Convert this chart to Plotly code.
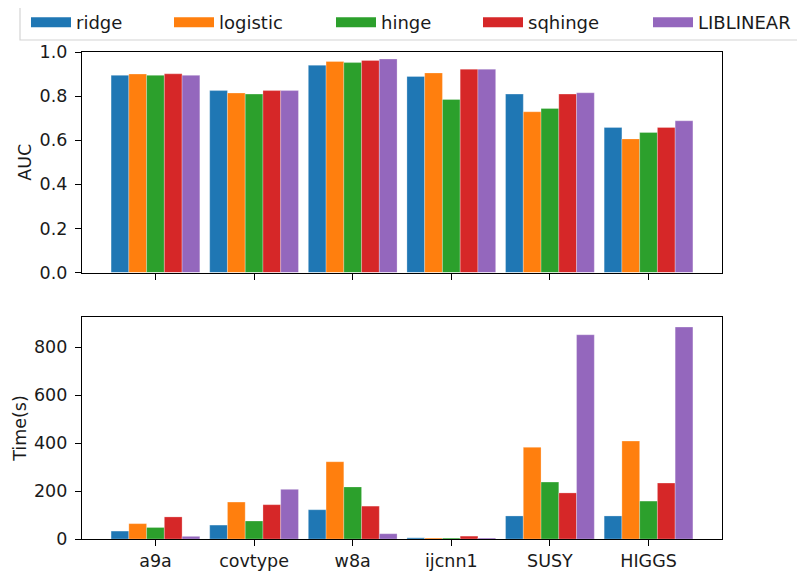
import plotly.graph_objects as go

datasets = ["a9a", "covtype", "w8a", "ijcnn1", "SUSY", "HIGGS"]
methods = ["ridge", "logistic", "hinge", "sqhinge", "LIBLINEAR"]
colors = ["#1f77b4", "#ff7f0e", "#2ca02c", "#d62728", "#9467bd"]

auc_ridge = [0.894, 0.825, 0.940, 0.889, 0.809, 0.658]
auc_logistic = [0.900, 0.814, 0.957, 0.905, 0.729, 0.606]
auc_hinge = [0.894, 0.809, 0.952, 0.785, 0.744, 0.635]
auc_sqhinge = [0.901, 0.825, 0.962, 0.922, 0.809, 0.658]
auc_liblinear = [0.894, 0.825, 0.968, 0.922, 0.815, 0.688]

time_ridge = [33, 58, 122, 5, 96, 96]
time_logistic = [64, 154, 322, 4, 382, 408]
time_hinge = [48, 75, 217, 4, 237, 158]
time_sqhinge = [92, 143, 137, 12, 192, 233]
time_liblinear = [11, 207, 22, 4, 851, 883]

auc = [auc_ridge, auc_logistic, auc_hinge, auc_sqhinge, auc_liblinear]
times = [time_ridge, time_logistic, time_hinge, time_sqhinge, time_liblinear]

# page offset (browser body margin) compensation
OFF = 8
W, Hfig = 805 - OFF, 572 - OFF
L, T = 82 - OFF, 52 - OFF
R = W - (722 - OFF)
B = Hfig - (539 - OFF)
PW = W - L - R
PH = Hfig - T - B


def py(screen_y):
    """screen y (px) -> paper fraction"""
    return (Hfig - B - (screen_y - OFF)) / PH


def px(screen_x):
    return (screen_x - OFF - L) / PW


# legend patch left edges (screen px) in the reference
legend_patch_px = [27, 170, 332, 479, 649]

fig = go.Figure()
for i, (m, c, a, t) in enumerate(zip(methods, colors, auc, times)):
    edge = dict(width=0.6, color="rgba(255,255,255,0.45)")
    fig.add_trace(go.Bar(x=datasets, y=a, name=m, marker=dict(color=c, line=edge),
                         xaxis="x", yaxis="y", legendgroup=m, showlegend=False))
    fig.add_trace(go.Bar(x=datasets, y=t, name=m, marker=dict(color=c, line=edge),
                         xaxis="x2", yaxis="y2", legendgroup=m, showlegend=False))
    fig.add_trace(go.Scatter(x=[None], y=[None], mode="lines", name=m,
                             line=dict(color=c, width=14), legendgroup=m,
                             showlegend=True, legend="legend" if i == 0 else f"legend{i+1}",
                             xaxis="x", yaxis="y"))

axis_common = dict(showline=True, linecolor="black", linewidth=1.2, mirror=True,
                   ticks="outside", ticklen=6, tickwidth=1.2, tickcolor="black", showgrid=False,
                   zeroline=False, tickfont=dict(size=17.5, color="#1a1a1a"))

legends = {}
for i, p in enumerate(legend_patch_px):
    key = "legend" if i == 0 else f"legend{i+1}"
    legends[key] = dict(x=px(p - 1), xanchor="left", y=py(4), yanchor="top",
                        bgcolor="rgba(0,0,0,0)", borderwidth=0, itemwidth=40,
                        font=dict(size=18, color="#1a1a1a"))

title_font = dict(size=17.5, color="#1a1a1a")

fig.update_layout(
    width=W, height=Hfig,
    margin=dict(l=L, r=R, t=T, b=B, autoexpand=False),
    paper_bgcolor="white", plot_bgcolor="white",
    font=dict(family="DejaVu Sans", size=17.5, color="#1a1a1a"),
    barmode="group", bargap=0.1, bargroupgap=0,
    xaxis=dict(domain=[0, 1], anchor="y", range=[-0.745, 5.745], showticklabels=False,
               type="category", **axis_common),
    yaxis=dict(domain=[py(272.5), 1], anchor="x", range=[0, 1.0], dtick=0.2,
               tickformat=".1f", ticklabelstandoff=4,
               title=dict(text="AUC", standoff=3, font=title_font), **axis_common),
    xaxis2=dict(domain=[0, 1], anchor="y2", range=[-0.745, 5.745], type="category", **axis_common),
    yaxis2=dict(domain=[0, py(317)], anchor="x2", range=[0, 925], dtick=200,
                ticklabelstandoff=4, title=dict(text="Time(s)", standoff=2, font=title_font),
                **axis_common),
    shapes=[dict(type="rect", xref="paper", yref="paper",
                 x0=px(20), x1=px(830), y0=py(40), y1=py(6),
                 line=dict(color="#d4d4d4", width=1.2), fillcolor="white", layer="below")],
    **legends,
)

fig.write_html("out.html")
